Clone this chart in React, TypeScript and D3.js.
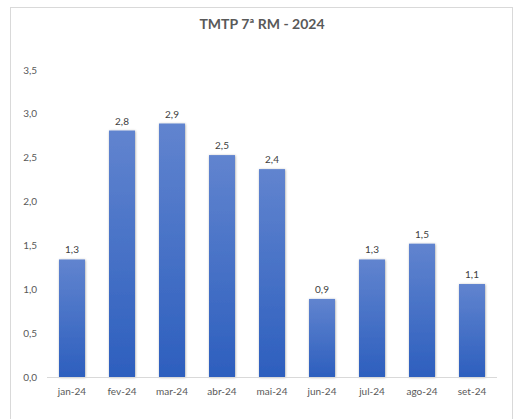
import React, { useRef, useEffect } from 'react';
import * as d3 from 'd3';

const months = ['jan-24', 'fev-24', 'mar-24', 'abr-24', 'mai-24', 'jun-24', 'jul-24', 'ago-24', 'set-24'];
const values = [1.34, 2.81, 2.89, 2.53, 2.37, 0.89, 1.34, 1.52, 1.06];
const yTicks = [0, 0.5, 1, 1.5, 2, 2.5, 3, 3.5];
const title = 'TMTP 7ª RM - 2024';

const fmt = (v: number) => v.toFixed(1).replace('.', ',');

export default function App() {
  const svgRef = useRef<SVGSVGElement>(null);

  useEffect(() => {
    if (!svgRef.current) return;
    const svg = d3.select(svgRef.current);
    svg.selectAll('*').remove();

    const width = 514;
    const height = 419;
    const margin = { top: 70, right: 17, bottom: 42, left: 47 };
    const font = 'Lato, "Open Sans", sans-serif';

    // gradient + shadow
    const defs = svg.append('defs');
    const grad = defs.append('linearGradient')
      .attr('id', 'barGrad')
      .attr('x1', 0).attr('y1', 0).attr('x2', 0).attr('y2', 1);
    grad.append('stop').attr('offset', '0%').attr('stop-color', '#6184cf');
    grad.append('stop').attr('offset', '100%').attr('stop-color', '#2d5fbe');
    const sh = defs.append('filter').attr('id', 'sh')
      .attr('x', '-20%').attr('y', '-10%').attr('width', '140%').attr('height', '120%');
    sh.append('feDropShadow')
      .attr('dx', 0.5).attr('dy', 0.5).attr('stdDeviation', 1)
      .attr('flood-color', '#000').attr('flood-opacity', 0.35);

    // chart frame
    svg.append('rect')
      .attr('x', 10.5).attr('y', 7.5)
      .attr('width', 502).attr('height', 420)
      .attr('fill', '#fff').attr('stroke', '#d9d9d9');

    const x = d3.scaleBand<string>()
      .domain(months)
      .range([margin.left, width - margin.right])
      .paddingInner(0.48)
      .paddingOuter(0.24);

    const y = d3.scaleLinear()
      .domain([0, 3.5])
      .range([height - margin.bottom, margin.top]);

    svg.append('text')
      .attr('x', 262).attr('y', 29)
      .attr('text-anchor', 'middle')
      .attr('font-family', font).attr('font-size', 14).attr('font-weight', 'bold')
      .attr('fill', '#595959')
      .text(title);

    // y tick labels
    svg.append('g')
      .selectAll('text')
      .data(yTicks)
      .join('text')
      .attr('x', 37)
      .attr('y', d => y(d) + 3.5)
      .attr('text-anchor', 'end')
      .attr('font-family', font).attr('font-size', 10)
      .attr('fill', '#595959')
      .text(d => fmt(d));

    // bars
    svg.append('g')
      .selectAll('rect')
      .data(values)
      .join('rect')
      .attr('x', (d, i) => x(months[i])!)
      .attr('y', d => y(d))
      .attr('width', x.bandwidth())
      .attr('height', d => y(0) - y(d))
      .attr('fill', 'url(#barGrad)')
      .attr('filter', 'url(#sh)');

    // value labels
    svg.append('g')
      .selectAll('text')
      .data(values)
      .join('text')
      .attr('x', (d, i) => x(months[i])! + x.bandwidth() / 2)
      .attr('y', d => y(d) - 6)
      .attr('text-anchor', 'middle')
      .attr('font-family', font).attr('font-size', 10)
      .attr('fill', '#404040')
      .text(d => fmt(d));

    // x axis line
    svg.append('line')
      .attr('x1', margin.left).attr('x2', width - margin.right)
      .attr('y1', y(0) + 0.5).attr('y2', y(0) + 0.5)
      .attr('stroke', '#d9d9d9');

    // x labels
    svg.append('g')
      .selectAll('text')
      .data(months)
      .join('text')
      .attr('x', d => x(d)! + x.bandwidth() / 2)
      .attr('y', y(0) + 18)
      .attr('text-anchor', 'middle')
      .attr('font-family', font).attr('font-size', 10)
      .attr('fill', '#595959')
      .text(d => d);
  }, []);

  return (
    <svg ref={svgRef} width={514} height={419}
      style={{ position: 'absolute', left: 0, top: 0, display: 'block' }} />
  );
}
